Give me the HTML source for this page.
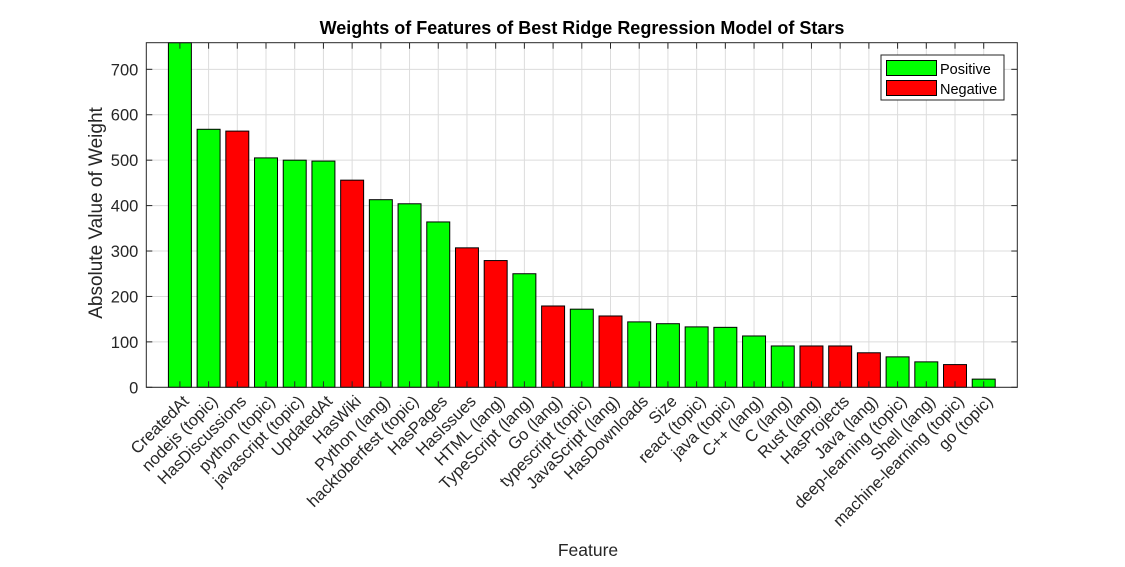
<!DOCTYPE html>
<html><head><meta charset="utf-8"><style>
body{margin:0;background:#fff;}
svg text{font-family:"Liberation Sans",Arial,sans-serif;}
</style></head><body>
<svg id="chart" width="1125" height="562" xmlns="http://www.w3.org/2000/svg">
<rect width="1125" height="562" fill="#fff"/>
<text x="582" y="34" text-anchor="middle" font-size="18" font-weight="bold">Weights of Features of Best Ridge Regression Model of Stars</text>
<g id="grid"></g>
<g id="bars"></g>
<rect x="146.3" y="42.7" width="871" height="344.6" fill="none" stroke="#262626" stroke-width="1"/>
<g id="ticks"></g>
<text x="588" y="556" text-anchor="middle" font-size="17.5" fill="#262626">Feature</text>
<text transform="translate(102,213) rotate(-90)" text-anchor="middle" font-size="19" fill="#262626">Absolute Value of Weight</text>
<g>
<rect x="881" y="55" width="123" height="45" fill="#fff" stroke="#262626"/>
<g><rect x="886.5" y="60.5" width="50" height="15" fill="#00ff00" stroke="#000"/><text x="940" y="74" font-size="14.5" fill="#000">Positive</text></g>
<g><rect x="886.5" y="80.5" width="50" height="15" fill="#ff0000" stroke="#000"/><text x="940" y="94" font-size="14.5" fill="#000">Negative</text></g>
</g>
</svg>
<script>
const categories=["CreatedAt","nodejs (topic)","HasDiscussions","python (topic)","javascript (topic)","UpdatedAt","HasWiki","Python (lang)","hacktoberfest (topic)","HasPages","HasIssues","HTML (lang)","TypeScript (lang)","Go (lang)","typescript (topic)","JavaScript (lang)","HasDownloads","Size","react (topic)","java (topic)","C++ (lang)","C (lang)","Rust (lang)","HasProjects","Java (lang)","deep-learning (topic)","Shell (lang)","machine-learning (topic)","go (topic)"];
const weights=[780,568,564,505,500,498,456,413,404,364,307,279,250,179,172,157,144,140,133,132,113,91,91,91,76,67,56,50,18];
const signs=["pos","pos","neg","pos","pos","pos","neg","pos","pos","pos","neg","neg","pos","neg","pos","neg","pos","pos","pos","pos","pos","pos","neg","neg","neg","pos","pos","neg","pos"];
const yTicks=[0,100,200,300,400,500,600,700];
const NS="http://www.w3.org/2000/svg";
const L=146.3,R=1017.3,T=42.7,B=387.3,yMax=758.6;
const n=categories.length,pad=1.17;
function xs(i){return L+(i+pad)*(R-L)/(n-1+2*pad);}
function ys(v){return B-Math.min(v,yMax)/yMax*(B-T);}
const step=(R-L)/(n-1+2*pad),bw=step*0.8;
function mk(tag,attrs,parent){const e=document.createElementNS(NS,tag);for(const k in attrs)e.setAttribute(k,attrs[k]);parent.appendChild(e);return e;}
const grid=document.getElementById('grid'),bars=document.getElementById('bars'),ticks=document.getElementById('ticks');
yTicks.forEach(t=>{const y=ys(t);
 const g=mk('line',{x1:L,x2:R,y1:y,y2:y,stroke:'#dcdcdc','stroke-width':1},grid);
 
 
 mk('line',{x1:L,x2:L+6,y1:y,y2:y,stroke:'#262626'},ticks);
 mk('line',{x1:R-6,x2:R,y1:y,y2:y,stroke:'#262626'},ticks);
 const tx=mk('text',{x:L-8,y:y+6,'text-anchor':'end','font-size':16.5,fill:'#262626'},ticks);
 tx.textContent=t;
 
 
});
categories.forEach((c,i)=>{const x=xs(i);
 const g=mk('line',{x1:x,x2:x,y1:T,y2:B,stroke:'#dcdcdc'},grid);
 
 
 const y=ys(weights[i]);
 const b=mk('rect',{x:x-bw/2,y:y,width:bw,height:B-y,fill:signs[i]==='pos'?'#00ff00':'#ff0000',stroke:'#000','stroke-width':1},bars);
 
 
 mk('line',{x1:x,x2:x,y1:B,y2:B-6,stroke:'#262626'},ticks);
 mk('line',{x1:x,x2:x,y1:T,y2:T+6,stroke:'#262626'},ticks);
 const ax=x+10,ay=B+15;
 const tx=mk('text',{x:ax,y:ay,'text-anchor':'end','font-size':16.5,fill:'#262626',transform:'rotate(-45 '+ax+' '+ay+')'},ticks);
 tx.textContent=c;
 
 
});
</script>
</body></html>
